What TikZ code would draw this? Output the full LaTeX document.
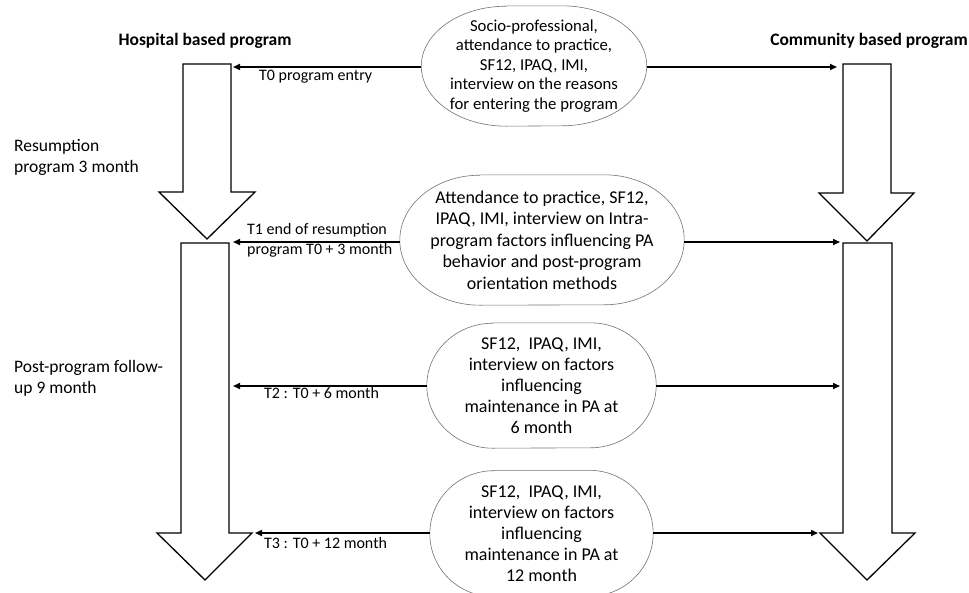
\documentclass[tikz,border=0pt]{standalone}
\usepackage{fontspec}
\setmainfont{Carlito}
\usetikzlibrary{arrows.meta}
\newcommand{\bubfontA}{\fontsize{16.7}{19.5}\selectfont}
\newcommand{\bubfontB}{\fontsize{18}{21}\selectfont}
\newcommand{\bubfontC}{\fontsize{18}{21.5}\selectfont}
\newcommand{\tlabfont}{\fontsize{16}{20}\selectfont}
\newcommand{\sidefont}{\fontsize{17.5}{21}\selectfont}
\newcommand{\ttlfont}{\fontsize{17.5}{21}\selectfont\bfseries}
% outline of a bubble: node name, x radius, y radius of the end arcs
\newcommand{\bubout}[3]{%
  \draw[bubline] ([xshift=#2]#1.north west) -- ([xshift=-#2]#1.north east)
    arc[start angle=90, end angle=-90, x radius=#2, y radius=#3]
    -- ([xshift=#2]#1.south west)
    arc[start angle=270, end angle=90, x radius=#2, y radius=#3] -- cycle;}
\begin{document}
\begin{tikzpicture}[x=1pt,y=-1pt,
  bubble/.style={align=center, inner sep=0pt, font=\bubfontB},
  bubline/.style={draw=black!55, line width=0.6pt},
  blockarrow/.style={draw=black, line width=1.3pt, fill=white, line join=miter},
  conn/.style={line width=1.6pt, -{Triangle[length=7pt,width=6pt]}},
  tlab/.style={font=\tlabfont, inner sep=0pt, align=left},
  side/.style={font=\sidefont, inner sep=0pt, align=left},
  ttl/.style={font=\ttlfont, inner sep=0pt}]
\useasboundingbox (0,0) rectangle (969,592);
% block arrows
\draw[blockarrow] (183,64) -- (231,64) -- (231,192) -- (255,192) -- (207,239) -- (159,192) -- (183,192) -- cycle;
\draw[blockarrow] (181,243) -- (229,243) -- (229,533) -- (252,533) -- (205,580) -- (157,533) -- (181,533) -- cycle;
\draw[blockarrow] (843,64) -- (891,64) -- (891,193) -- (914,193) -- (867,241) -- (819,193) -- (843,193) -- cycle;
\draw[blockarrow] (843,243) -- (892,243) -- (892,533) -- (915,533) -- (867,580) -- (820,533) -- (843,533) -- cycle;
% connector ends
\coordinate (L0) at (233,67);
\coordinate (L1) at (233,242);
\coordinate (L2) at (233,386);
\coordinate (L3) at (255,533);
\coordinate (R0) at (837,67);
\coordinate (R1) at (840,242);
\coordinate (R2) at (840,386);
\coordinate (R3) at (818,533);
% titles
\node[ttl] (th) at (205,41) {Hospital based program};
\node[ttl] (tc) at (869,41) {Community based program};
% bubbles
\node[bubble, font=\bubfontA, minimum width=225pt, minimum height=120pt] (b0) at (534,66)
  {Socio-professional,\\attendance to practice,\\SF12, IPAQ, IMI,\\interview on the reasons\\for entering the program};
\bubout{b0}{85pt}{60pt}
\node[bubble, font=\bubfontC, minimum width=284pt, minimum height=130pt] (b1) at (542,240)
  {Attendance to practice, SF12,\\IPAQ, IMI, interview on Intra-\\program factors influencing PA\\behavior and post-program\\orientation methods};
\bubout{b1}{80pt}{65pt}
\node[bubble, minimum width=229pt, minimum height=125pt] (b2) at (541.5,385.5)
  {SF12,\ \ IPAQ, IMI,\\interview on factors\\influencing\\maintenance in PA at\\6 month};
\bubout{b2}{66pt}{62.5pt}
\node[bubble, minimum width=223pt, minimum height=126pt] (b3) at (541.5,533.5)
  {SF12,\ \ IPAQ, IMI,\\interview on factors\\influencing\\maintenance in PA at\\12 month};
\bubout{b3}{64pt}{63pt}
% connectors
\draw[conn] (b0.west |- L0) -- (L0);
\draw[conn] (b0.east |- R0) -- (R0);
\draw[conn] (b1.west |- L1) -- (L1);
\draw[conn] (b1.east |- R1) -- (R1);
\draw[conn] (b2.west |- L2) -- (L2);
\draw[conn] (b2.east |- R2) -- (R2);
\draw[conn] (b3.west |- L3) -- (L3);
\draw[conn] (b3.east |- R3) -- (R3);
% labels
\node[tlab, anchor=west] (l0) at (259,77) {T0 program entry};
\node[tlab, anchor=west] (l1) at (247,240) {T1 end of resumption\\program T0 + 3 month};
\node[tlab, anchor=west] (l2) at (264,393) {T2 : T0 + 6 month};
\node[tlab, anchor=west] (l3) at (264,543) {T3 : T0 + 12 month};
\node[side, anchor=west] (p1) at (14,157.5) {Resumption\\program 3 month};
\node[side, anchor=west] (p2) at (14,378.5) {Post-program follow-\\up 9 month};
\end{tikzpicture}
\end{document}
